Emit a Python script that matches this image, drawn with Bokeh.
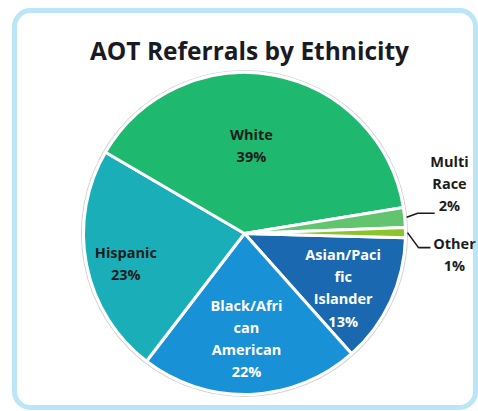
import math
from bokeh.plotting import figure
from bokeh.models import Range1d, BoxAnnotation, ColumnDataSource
from bokeh.core.properties import value
from bokeh.embed import file_html
from bokeh.resources import INLINE

# ---- data ----
categories = ["Asian/Pacific Islander", "Black/African American", "Hispanic",
              "White", "Multi Race", "Other"]
percents = [13, 22, 23, 39, 2, 1]
label_lines = ["Asian/Paci\nfic\nIslander", "Black/Afri\ncan\nAmerican",
               "Hispanic", "White", "Multi\nRace", "Other"]
colors = ["#1a69b0", "#1991d7", "#1aafb8", "#1eb86e", "#62c46e", "#8dc32c"]
title = "AOT Referrals by Ethnicity"

# ---- layout (page pixels mapped 1:1 to data units) ----
W, H = 478, 411


def py(page_y):
    return H - page_y


cx, cy = 244, py(233)
R = 161
start_cw = 1.5  # degrees clockwise from east where the first slice starts

p = figure(width=W, height=H, x_range=Range1d(0, W), y_range=Range1d(0, H),
           output_backend="svg", toolbar_location=None, min_border=0)
p.axis.visible = False
p.grid.visible = False
p.outline_line_color = None
p.background_fill_color = "white"
p.border_fill_color = "white"

total = sum(percents)
starts, ends, mids = [], [], []
acc = start_cw
for v in percents:
    a0 = acc
    a1 = acc + 360.0 * v / total
    starts.append(-math.radians(a0))
    ends.append(-math.radians(a1))
    mids.append((a0 + a1) / 2)
    acc = a1

# faint rim shadow
p.circle(x=[cx], y=[cy], radius=R + 2, fill_color=None, line_color="#d4d4d4", line_width=1.2)

src = ColumnDataSource(dict(x=[cx] * len(percents), y=[cy] * len(percents),
                            start=starts, end=ends, color=colors))
p.wedge(x="x", y="y", radius=R, start_angle="start", end_angle="end", direction="clock",
        fill_color="color", line_color="white", line_width=3, source=src)

LBL_FONT = "14.5px"
LH = 1.16

# inside labels
inside_frac = [0.70, 0.65, 0.76, 0.55]
text_colors = ["white", "white", "#1c1c1c", "#1c1c1c"]
angle_nudge = [4, 1, -3, -6]
for i in range(4):
    a = math.radians(mids[i] + angle_nudge[i])
    lx = cx + inside_frac[i] * R * math.cos(a)
    ly = cy - inside_frac[i] * R * math.sin(a)
    p.text(x=[lx], y=[ly], text=[label_lines[i] + "\n" + f"{percents[i]}%"],
           text_font=value("Open Sans"), text_font_style="bold", text_font_size=LBL_FONT,
           text_color=text_colors[i], text_align="center", text_baseline="middle",
           text_line_height=LH)

# outside labels with leader lines
out_label_pos = {4: (449, py(183)), 5: (454, py(254))}
elbows = {4: ((11, 4), (28, 4)), 5: ((11, -15), (23, -15))}
for i in (4, 5):
    a = math.radians(mids[i])
    sx = cx + (R + 2) * math.cos(a)
    sy = cy - (R + 2) * math.sin(a)
    (e1x, e1y), (e2x, e2y) = elbows[i]
    p.line(x=[sx, sx + e1x, sx + e2x], y=[sy, sy + e1y, sy + e2y],
           line_color="#1c1c1c", line_width=1.6)
    lx, ly = out_label_pos[i]
    p.text(x=[lx], y=[ly], text=[label_lines[i] + "\n" + f"{percents[i]}%"],
           text_font=value("Open Sans"), text_font_style="bold", text_font_size=LBL_FONT,
           text_color="#1c1c1c", text_align="center", text_baseline="middle",
           text_line_height=LH)

# title
p.text(x=[249], y=[py(50)], text=[title], text_font=value("Open Sans"),
       text_font_style="bold", text_font_size="24.5px", text_color="#1a1a24",
       text_align="center", text_baseline="middle")

# rounded frame
frame = BoxAnnotation(left=14, right=475, top=py(10), bottom=py(407),
                      fill_color=None, line_color="#22ade0", line_width=5,
                      border_radius=16)
p.add_layout(frame)

open("out.html", "w").write(file_html(p, INLINE))
